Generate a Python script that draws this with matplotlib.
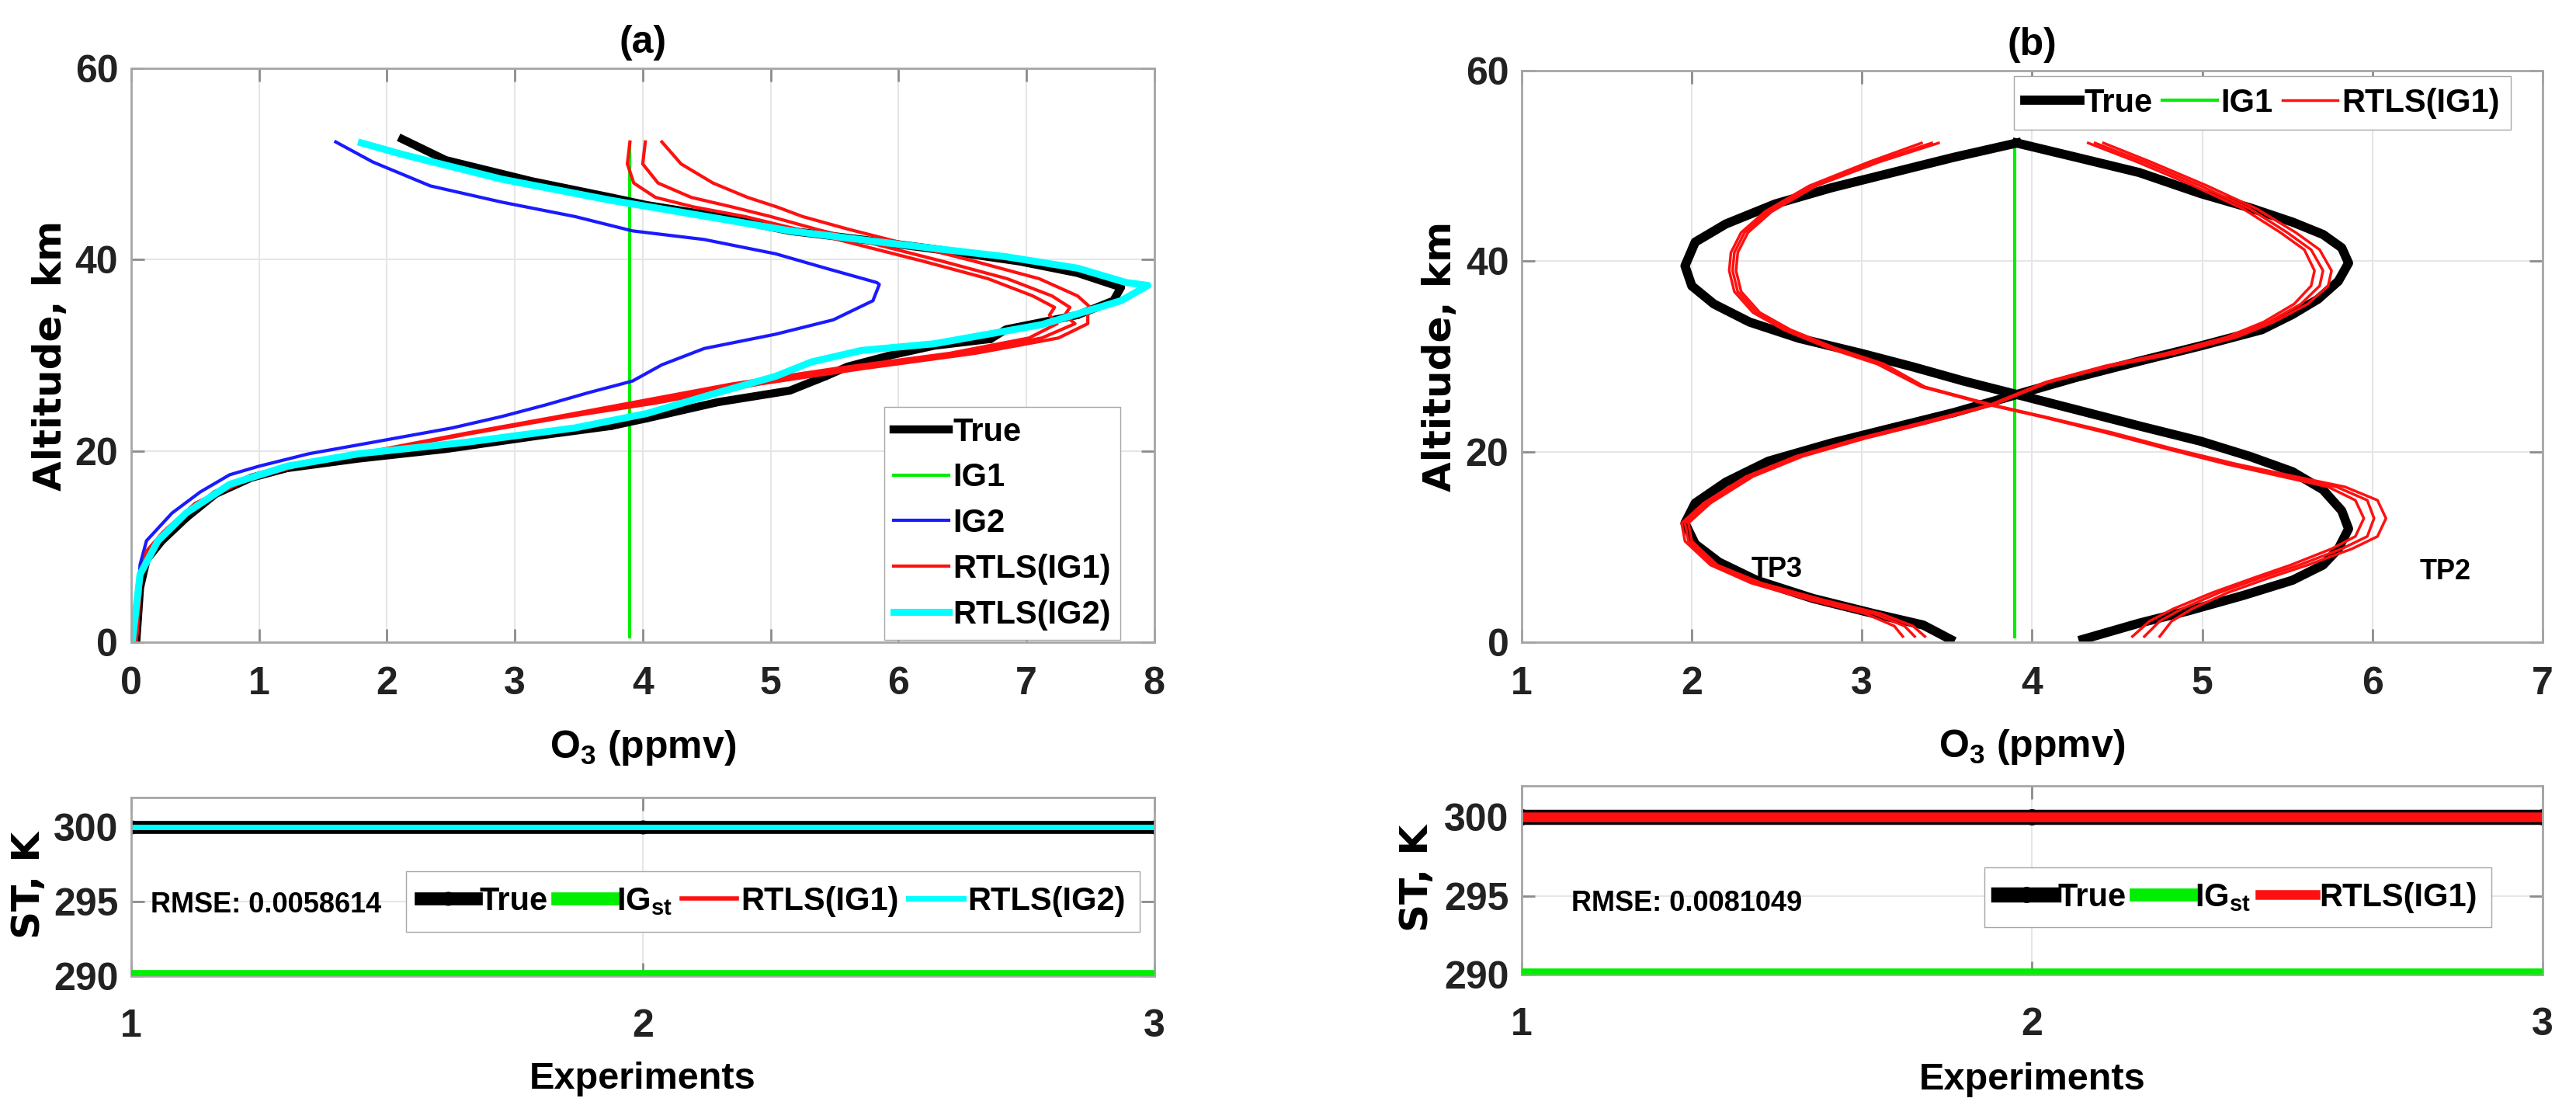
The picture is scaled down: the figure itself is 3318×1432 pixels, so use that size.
import numpy as np
import matplotlib
matplotlib.use("Agg")
import matplotlib.pyplot as plt

plt.rcParams['font.family'] = ['Liberation Sans', 'DejaVu Sans']
plt.rcParams['font.weight'] = 'bold'
plt.rcParams['axes.labelweight'] = 'bold'
plt.rcParams['axes.titleweight'] = 'bold'
plt.rcParams['mathtext.default'] = 'regular'

# ---------------- panel (a): O3 profiles ----------------
true_a_x = [2.12, 2.46, 3.13, 3.75, 4.03, 4.59, 5.15, 5.71, 6.28, 6.95, 7.40, 7.74, 7.68, 7.40, 6.84,
            6.72, 6.28, 5.94, 5.60, 5.43, 5.15, 4.59, 4.03, 3.75, 3.19, 2.46, 1.78, 1.22, 0.94, 0.66,
            0.43, 0.24, 0.12, 0.07, 0.04]
true_a_alt = [52.6, 50.4, 48.2, 46.5, 45.7, 44.5, 43.0, 42.1, 41.1, 39.8, 38.6, 37.1, 35.7, 34.2, 32.7,
              31.7, 31.0, 30.0, 28.8, 27.8, 26.3, 25.1, 23.4, 22.6, 21.6, 20.2, 19.2, 18.2, 17.2, 15.5,
              13.0, 10.6, 8.6, 5.7, 0.0]

ig2_x = [1.60, 1.89, 2.34, 2.90, 3.47, 3.92, 4.48, 5.04, 5.43, 5.83, 5.85, 5.80, 5.49, 5.04, 4.48,
         4.15, 3.92, 3.58, 3.24, 2.90, 2.51, 1.89, 1.39, 1.00, 0.77, 0.54, 0.32, 0.12, 0.07, 0.03]
ig2_alt = [52.3, 50.2, 47.7, 46.0, 44.5, 43.0, 42.1, 40.6, 39.1, 37.6, 37.4, 35.7, 33.7, 32.2, 30.7,
           29.0, 27.3, 26.1, 24.8, 23.6, 22.4, 20.9, 19.7, 18.4, 17.5, 15.7, 13.5, 10.6, 8.1, 0.2]

rtls2_x = [1.80, 2.12, 2.90, 3.75, 4.59, 5.15, 6.00, 6.84, 7.40, 7.78, 7.95, 7.74, 7.12, 6.28, 5.71,
           5.32, 5.04, 4.59, 4.03, 3.47, 2.62, 1.78, 1.22, 0.77, 0.43, 0.21, 0.07, 0.01]
rtls2_alt = [52.2, 51.0, 48.4, 46.2, 44.3, 43.0, 41.6, 40.3, 39.1, 37.6, 37.3, 35.7, 33.2, 31.2, 30.5,
             29.3, 27.8, 26.1, 23.9, 22.4, 20.9, 19.7, 18.4, 16.5, 13.5, 10.6, 7.1, 0.2]

rtls1_alt = [52.3, 50.0, 48.0, 46.5, 45.5, 44.5, 43.2, 41.5, 39.8, 38.0, 36.2, 35.0, 34.2, 33.3, 31.8,
             30.2, 28.6, 27.0, 25.0, 23.5, 21.8, 20.0, 18.5, 16.8, 14.5, 11.5, 9.5, 7.0, 0.0]
rtls1_x_e1 = [3.90, 3.88, 3.93, 4.10, 4.40, 4.80, 5.20, 5.70, 6.20, 6.70, 7.05, 7.22, 7.18, 7.24, 7.02,
              6.40, 5.50, 4.70, 3.90, 3.30, 2.60, 1.90, 1.30, 0.85, 0.50, 0.25, 0.12, 0.08, 0.04]
rtls1_x_e2 = [4.02, 4.00, 4.12, 4.38, 4.70, 5.00, 5.35, 5.85, 6.35, 6.85, 7.20, 7.34, 7.30, 7.38, 7.12,
              6.50, 5.60, 4.80, 4.00, 3.33, 2.62, 1.92, 1.30, 0.86, 0.50, 0.25, 0.12, 0.08, 0.04]
rtls1_x_e3 = [4.15, 4.30, 4.55, 4.82, 5.05, 5.25, 5.60, 6.10, 6.60, 7.10, 7.40, 7.50, 7.48, 7.48, 7.25,
              6.60, 5.72, 4.92, 4.10, 3.38, 2.65, 1.95, 1.32, 0.88, 0.52, 0.26, 0.13, 0.08, 0.04]

ig1_x = [3.9, 3.9]
ig1_alt = [0.6, 52.0]

# ---------------- panel (b): O3 profiles TP3 / TP2 ----------------
tp3_true_alt = [0.3, 1.8, 3.0, 4.6, 6.5, 8.4, 10.3, 12.5, 14.6, 16.8, 19.0, 20.9, 22.5, 24.1, 26.0,
                27.8, 29.5, 31.1, 32.8, 34.4, 36.0, 37.9, 39.8, 41.4, 42.8, 44.1, 45.6, 47.1, 49.3,
                50.9, 52.4]
tp3_true_x = [3.52, 3.36, 3.07, 2.71, 2.38, 2.16, 2.02, 1.96, 2.02, 2.20, 2.45, 2.82, 3.18, 3.54, 3.91,
              4.26, 4.63, 4.99, 5.35, 5.53, 5.68, 5.80, 5.86, 5.82, 5.71, 5.53, 5.28, 4.99, 4.63,
              4.26, 3.91]
tp2_true_alt = [0.3, 2.0, 3.3, 4.9, 6.5, 8.1, 9.8, 11.9, 13.8, 16.0, 17.9, 19.5, 21.1, 22.7, 24.4,
                26.0, 27.4, 28.9, 30.3, 31.9, 33.6, 35.5, 37.4, 39.5, 42.0, 43.9, 46.0, 47.7, 49.3,
                50.9, 52.4]
tp2_true_x = [4.30, 4.63, 4.92, 5.24, 5.53, 5.71, 5.80, 5.86, 5.82, 5.71, 5.53, 5.28, 4.99, 4.63, 4.26,
              3.91, 3.60, 3.30, 3.00, 2.63, 2.34, 2.13, 2.00, 1.96, 2.02, 2.20, 2.49, 2.82, 3.18,
              3.54, 3.91]

tp3_rtls_alt = [0.6, 1.7, 3.0, 4.4, 6.2, 8.1, 10.6, 12.5, 14.6, 17.4, 19.5, 21.4, 23.0, 24.9, 27.3,
                29.0, 30.3, 32.0, 33.6, 35.5, 37.4, 39.0, 41.2, 43.0, 45.5, 47.9, 50.4, 52.4]
tp3_rtls_e1 = [3.24, 3.19, 3.02, 2.70, 2.35, 2.11, 1.96, 1.94, 2.07, 2.32, 2.61, 2.98, 3.34, 3.75, 4.08,
               4.43, 4.78, 5.14, 5.36, 5.54, 5.64, 5.66, 5.60, 5.46, 5.24, 4.95, 4.62, 4.33]
tp3_rtls_e2 = [3.31, 3.25, 3.07, 2.74, 2.38, 2.13, 1.98, 1.96, 2.09, 2.34, 2.63, 3.00, 3.36, 3.76, 4.09,
               4.45, 4.81, 5.17, 5.39, 5.58, 5.69, 5.71, 5.64, 5.50, 5.28, 4.99, 4.66, 4.37]
tp3_rtls_e3 = [3.37, 3.30, 3.11, 2.78, 2.41, 2.15, 2.00, 1.98, 2.11, 2.36, 2.65, 3.02, 3.38, 3.77, 4.10,
               4.47, 4.84, 5.20, 5.42, 5.62, 5.74, 5.76, 5.69, 5.55, 5.32, 5.03, 4.70, 4.42]

tp2_rtls_alt = [0.6, 2.2, 3.5, 5.2, 6.8, 8.1, 9.8, 11.1, 13.0, 14.9, 16.3, 17.3, 18.7, 20.3, 22.0,
                23.6, 24.9, 26.8, 29.2, 30.9, 32.8, 34.6, 36.8, 39.0, 40.9, 43.0, 45.2, 47.9, 50.4, 52.4]
tp2_rtls_e1 = [4.59, 4.69, 4.83, 5.06, 5.31, 5.52, 5.76, 5.90, 5.95, 5.90, 5.74, 5.49, 5.14, 4.79, 4.43,
               4.07, 3.75, 3.35, 3.09, 2.80, 2.54, 2.36, 2.25, 2.22, 2.23, 2.29, 2.43, 2.69, 3.04, 3.35]
tp2_rtls_e2 = [4.66, 4.75, 4.88, 5.10, 5.35, 5.57, 5.82, 5.97, 6.01, 5.97, 5.79, 5.53, 5.17, 4.81, 4.45,
               4.08, 3.76, 3.36, 3.11, 2.82, 2.56, 2.38, 2.27, 2.24, 2.25, 2.31, 2.45, 2.71, 3.07, 3.41]
tp2_rtls_e3 = [4.75, 4.82, 4.94, 5.15, 5.40, 5.62, 5.88, 6.03, 6.08, 6.03, 5.84, 5.57, 5.20, 4.83, 4.47,
               4.09, 3.77, 3.37, 3.13, 2.84, 2.58, 2.40, 2.29, 2.26, 2.27, 2.33, 2.47, 2.73, 3.10, 3.45]

# ---------------- surface temperature panels ----------------
experiments = [1, 2, 3]
st_true = [300, 300, 300]
st_ig = [290, 290, 290]
st_rtls1_a = [300.0, 300.0, 300.0]
st_rtls2_a = [300.0, 300.0, 300.0]
st_rtls1_b = [300.0, 300.0, 300.0]
rmse_a = "RMSE: 0.0058614"
rmse_b = "RMSE: 0.0081049"

TICK_FS = 36
LAB_FS = 36
LEG_FS = 30
SMALL_FS = 26
wide = 'DejaVu Sans'
leg_kw = dict(fontsize=LEG_FS, handlelength=1.7, handletextpad=0.12, columnspacing=0.3,
              borderaxespad=0, fancybox=False, edgecolor='#a6a6a6', framealpha=1)


def style(ax, xpad=22):
    for s in ax.spines.values():
        s.set_color('#a6a6a6')
        s.set_linewidth(2)
    ax.grid(True, color='#e6e6e6', lw=1.5)
    ax.set_axisbelow(True)
    ax.tick_params(axis='both', direction='in', length=12, width=2, color='#8c8c8c',
                   top=True, right=True, labelsize=TICK_FS, labelcolor='#222222')
    ax.tick_params(axis='x', pad=xpad)
    ax.tick_params(axis='y', pad=12)


def place_labels(ax, xl, xl_y, yl, yl_x, yl_y=0.5, xl_fs=LAB_FS):
    ax.set_xlabel(xl, fontsize=xl_fs)
    ax.xaxis.set_label_coords(0.5, xl_y)
    ax.xaxis.label.set_va('center')
    ax.set_ylabel(yl, fontsize=36, family=wide, fontweight='bold')
    ax.yaxis.set_label_coords(yl_x, yl_y)
    ax.yaxis.label.set_va('center')


fig = plt.figure(figsize=(33.18, 14.32), dpi=100)
ax_a = fig.add_axes([0.0509, 0.4225, 0.3972, 0.5161])
ax_b = fig.add_axes([0.5907, 0.4225, 0.3963, 0.5140])
ax_c = fig.add_axes([0.0509, 0.1222, 0.3972, 0.1606])
ax_d = fig.add_axes([0.5907, 0.1236, 0.3963, 0.1697])

# (a)
ax_a.plot(ig1_x, ig1_alt, color='#00ee00', lw=3, label='IG1', zorder=1.5)
ax_a.plot(true_a_x, true_a_alt, color='black', lw=7.5, marker='.', ms=10, label='True', zorder=2)
ax_a.plot(ig2_x, ig2_alt, color='#1a1aff', lw=3, label='IG2', zorder=2.1)
ax_a.plot(rtls1_x_e1, rtls1_alt, color='#ff1010', lw=3, label='RTLS(IG1)', zorder=2.2)
ax_a.plot(rtls1_x_e2, rtls1_alt, color='#ff1010', lw=3, zorder=2.2)
ax_a.plot(rtls1_x_e3, rtls1_alt, color='#ff1010', lw=3, zorder=2.2)
ax_a.plot(rtls2_x, rtls2_alt, color='#00ffff', lw=6.5, label='RTLS(IG2)', zorder=2.3)
ax_a.set_xlim(0, 8)
ax_a.set_ylim(0, 60)
ax_a.set_xticks(range(0, 9))
ax_a.set_yticks([0, 20, 40, 60])
style(ax_a)
ax_a.set_title('(a)', fontsize=36, pad=14)
place_labels(ax_a, 'O$_3$ (ppmv)', -0.184, 'Altitude, km', -0.079)
h, l = ax_a.get_legend_handles_labels()
order = [l.index(k) for k in ['True', 'IG1', 'IG2', 'RTLS(IG1)', 'RTLS(IG2)']]
ax_a.legend([h[i] for i in order], [l[i] for i in order], loc='lower right',
            bbox_to_anchor=(0.967, 0.004), labelspacing=0.45, borderpad=0.3, **leg_kw)

# (b)
ax_b.plot(ig1_x, ig1_alt, color='#00ee00', lw=3, label='IG1', zorder=1.5)
ax_b.plot(tp3_true_x, tp3_true_alt, color='black', lw=8.5, marker='.', ms=11, label='True', zorder=2)
ax_b.plot(tp2_true_x, tp2_true_alt, color='black', lw=8.5, marker='.', ms=11, zorder=2)
for xs in [tp3_rtls_e1, tp3_rtls_e2, tp3_rtls_e3]:
    ax_b.plot(xs, tp3_rtls_alt, color='#ff1010', lw=2.5, zorder=2.2)
ax_b.plot(tp2_rtls_e1, tp2_rtls_alt, color='#ff1010', lw=2.5, zorder=2.2, label='RTLS(IG1)')
ax_b.plot(tp2_rtls_e2, tp2_rtls_alt, color='#ff1010', lw=2.5, zorder=2.2)
ax_b.plot(tp2_rtls_e3, tp2_rtls_alt, color='#ff1010', lw=2.5, zorder=2.2)
ax_b.text(2.5, 7.6, 'TP3', fontsize=SMALL_FS, ha='center', va='center')
ax_b.text(6.43, 7.4, 'TP2', fontsize=SMALL_FS, ha='center', va='center')
ax_b.set_xlim(1, 7)
ax_b.set_ylim(0, 60)
ax_b.set_xticks(range(1, 8))
ax_b.set_yticks([0, 20, 40, 60])
style(ax_b)
ax_b.set_title('(b)', fontsize=36, pad=14)
place_labels(ax_b, 'O$_3$ (ppmv)', -0.184, 'Altitude, km', -0.080)
h, l = ax_b.get_legend_handles_labels()
order = [l.index(k) for k in ['True', 'IG1', 'RTLS(IG1)']]
ax_b.legend([h[i] for i in order], [l[i] for i in order], loc='upper right',
            bbox_to_anchor=(0.969, 0.990), ncol=3, borderpad=0.35, **leg_kw)

# ST (a)
ax_c.plot(experiments, st_true, color='black', lw=12, marker='o', ms=12, label='True', zorder=2)
ax_c.plot(experiments, st_ig, color='#00ee00', lw=12, label='IG$_{st}$', zorder=3)
ax_c.plot(experiments, st_rtls1_a, color='#ff1010', lw=4, label='RTLS(IG1)', zorder=2.2)
ax_c.plot(experiments, st_rtls2_a, color='#00ffff', lw=5, label='RTLS(IG2)', zorder=2.3)
ax_c.text(1.038, 294.8, rmse_a, fontsize=SMALL_FS, ha='left', va='center')
ax_c.set_xlim(1, 3)
ax_c.set_ylim(290, 302)
ax_c.set_xticks(experiments)
ax_c.set_yticks([290, 295, 300])
style(ax_c, xpad=30)
place_labels(ax_c, 'Experiments', -0.578, 'ST, K', -0.100, 0.51, xl_fs=35)
ax_c.legend(loc='upper right', bbox_to_anchor=(0.986, 0.587), ncol=4, borderpad=0.45, **leg_kw)

# ST (b)
ax_d.plot(experiments, st_true, color='black', lw=14, marker='o', ms=14, label='True', zorder=2)
ax_d.plot(experiments, st_ig, color='#00ee00', lw=12, label='IG$_{st}$', zorder=3)
ax_d.plot(experiments, st_rtls1_b, color='#ff1010', lw=9, label='RTLS(IG1)', zorder=2.2)
ax_d.text(1.097, 294.5, rmse_b, fontsize=SMALL_FS, ha='left', va='center')
ax_d.set_xlim(1, 3)
ax_d.set_ylim(290, 302)
ax_d.set_xticks(experiments)
ax_d.set_yticks([290, 295, 300])
style(ax_d, xpad=30)
place_labels(ax_d, 'Experiments', -0.556, 'ST, K', -0.103, 0.51, xl_fs=35)
ax_d.legend(loc='upper right', bbox_to_anchor=(0.950, 0.568), ncol=3, borderpad=0.45, **leg_kw)

fig.savefig('out.png', dpi=100)
